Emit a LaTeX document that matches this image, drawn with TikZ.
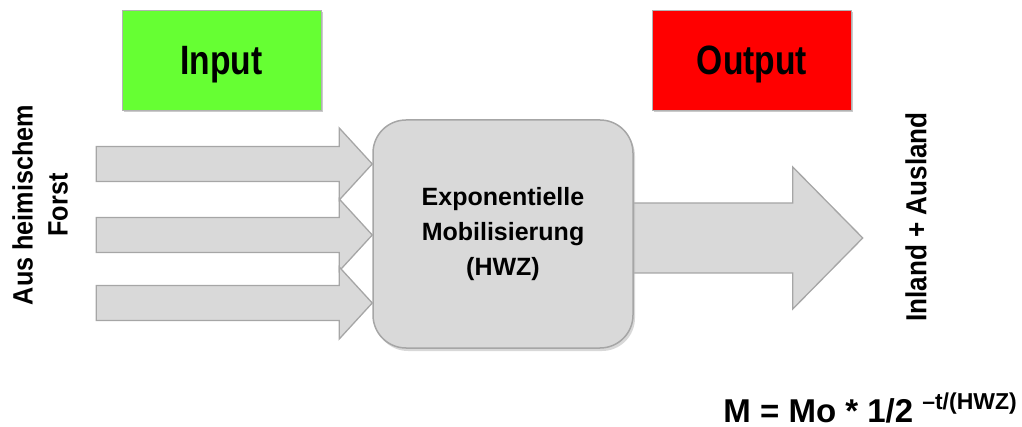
\documentclass[tikz,border=0pt]{standalone}
\usepackage{fontspec}
\setmainfont{Liberation Sans}
\newfontfamily\boxfont[FakeStretch=0.82]{Liberation Sans}
\newfontfamily\sidefont[FakeStretch=0.9]{Liberation Sans}
\usetikzlibrary{calc,shadows,backgrounds}

\definecolor{inputgreen}{HTML}{66FF33}
\definecolor{outputred}{HTML}{FF0000}
\definecolor{arrowfill}{HTML}{D9D9D9}
\definecolor{arrowline}{HTML}{A6A6A6}

\tikzset{
  blockarrow/.style={draw=arrowline, fill=arrowfill, line width=1.3pt, line join=miter},
  labelbox/.style={draw=gray!60, line width=0.6pt, minimum width=199pt, minimum height=100pt,
    text depth=0pt, font=\boxfont\bfseries\fontsize{41}{41}\selectfont,
    drop shadow={shadow xshift=1.5pt, shadow yshift=-2.5pt, fill=black!35, opacity=0.6}},
  mobilbox/.style={draw=arrowline, fill=arrowfill, line width=1.5pt, rounded corners=33pt,
    minimum width=260pt, minimum height=228pt, align=center,
    font=\bfseries\fontsize{25}{35}\selectfont,
    drop shadow={shadow xshift=2pt, shadow yshift=-3pt, fill=black!30, opacity=0.5}},
  sidetext/.style={rotate=90, align=center, font=\sidefont\bfseries\fontsize{28}{35}\selectfont},
}

\begin{document}
\begin{tikzpicture}[x=1pt, y=-1pt]
    \useasboundingbox (0,0) rectangle (1022,427);

    % arrow sizes
    \def\arlen{276};
    \def\arhead{33};
    \def\arshaft{17.5};
    \def\arwide{36};

% boxes
    \node[labelbox, fill=inputgreen] (input) at (221.5,60) {Input};
    \node[labelbox, fill=outputred] (output) at (752,60) {Output};

    \node[mobilbox] (mobil) at (503,234) {Exponentielle\\Mobilisierung\\(HWZ)};

% tips of the arrows
    \coordinate (tin1) at ($(mobil.west)+(0,-70)$);
    \coordinate (tin2) at ($(mobil.west)+(0,1)$);
    \coordinate (tin3) at ($(mobil.west)+(0,69)$);
    \coordinate (tout) at ($(mobil.east)+(229,4)$);

    \begin{scope}[on background layer]
% inputs
        \draw[blockarrow, shift={(tin1)}] (-\arlen,-\arshaft) -- (-\arhead,-\arshaft) -- (-\arhead,-\arwide)
            -- (0,0) -- (-\arhead,\arwide) -- (-\arhead,\arshaft) -- (-\arlen,\arshaft) -- cycle;
        \draw[blockarrow, shift={(tin2)}] (-\arlen,-\arshaft) -- (-\arhead,-\arshaft) -- (-\arhead,-\arwide)
            -- (0,0) -- (-\arhead,\arwide) -- (-\arhead,\arshaft) -- (-\arlen,\arshaft) -- cycle;
        \draw[blockarrow, shift={(tin3)}] (-\arlen,-\arshaft) -- (-\arhead,-\arshaft) -- (-\arhead,-\arwide)
            -- (0,0) -- (-\arhead,\arwide) -- (-\arhead,\arshaft) -- (-\arlen,\arshaft) -- cycle;
% output
        \draw[blockarrow, shift={(tout)}] (-236,-35) -- (-70,-35) -- (-70,-71)
            -- (0,0) -- (-70,71) -- (-70,35) -- (-236,35) -- cycle;
    \end{scope}

% side texts
    \node[sidetext] (forst) at (40,205) {Aus heimischem\\Forst};
    \node[sidetext, font=\sidefont\bfseries\fontsize{29}{35}\selectfont] (ausland) at (916,217) {Inland + Ausland};

% formula
    \node[anchor=base east, inner sep=0pt, text depth=0pt, font=\bfseries\fontsize{33}{33}\selectfont] (formel) at (1017,422)
        {M = Mo * 1/2\hspace{9pt}\raisebox{13pt}{\fontsize{23}{23}\selectfont –t/(HWZ)}};

\end{tikzpicture}
\end{document}
